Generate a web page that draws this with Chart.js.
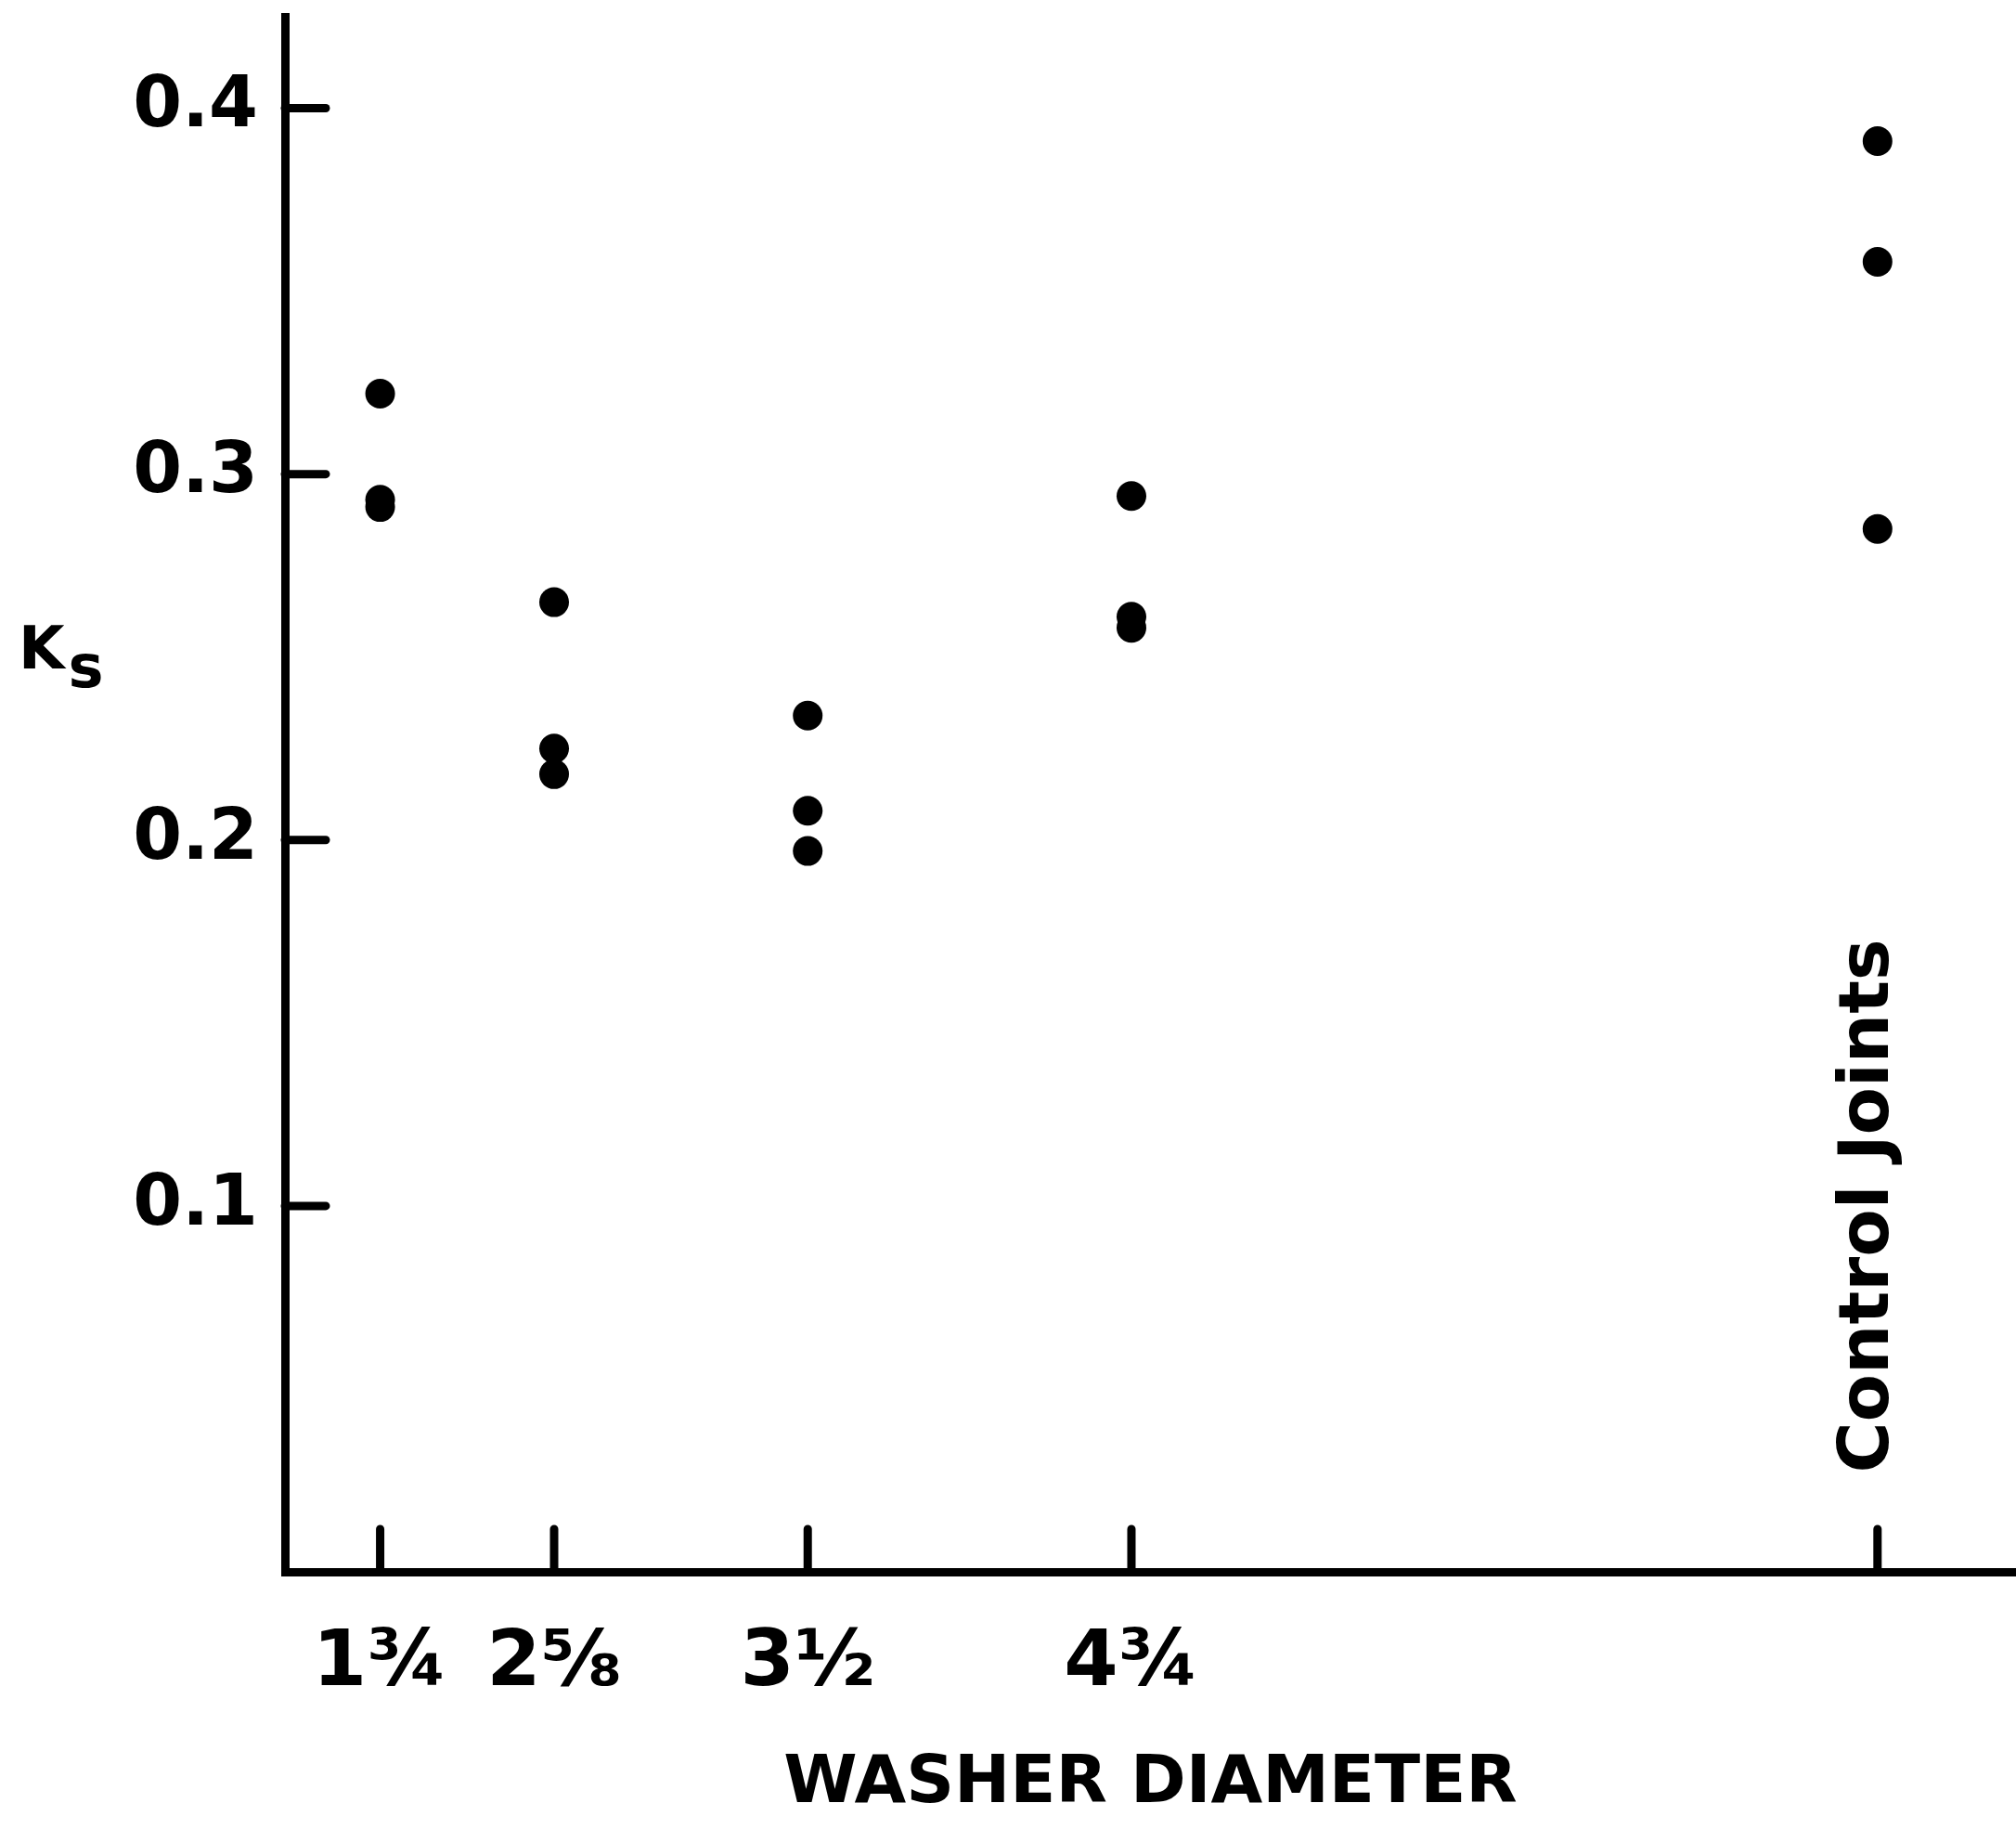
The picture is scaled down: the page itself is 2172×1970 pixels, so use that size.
<!DOCTYPE html>
<html>
<head>
<meta charset="utf-8">
<script src="https://cdn.jsdelivr.net/npm/chart.js@4.4.1/dist/chart.umd.min.js"></script>
<style>
html, body { margin: 0; padding: 0; background: #ffffff; }
canvas { display: block; }
</style>
</head>
<body>
<canvas id="chart" width="2172" height="1970"></canvas>
<script>
// ---- data ----
const categories = ['1¾', '2⅝', '3½', '4¾', 'Control Joints'];
// position of each washer group along the (non-uniform) horizontal axis, axis runs 0..100
const categoryPosition = [5.5, 15.55, 30.2, 48.9, 92.0];
const ks_1_3_4 = [0.322, 0.293, 0.291];
const ks_2_5_8 = [0.265, 0.225, 0.218];
const ks_3_1_2 = [0.234, 0.208, 0.197];
const ks_4_3_4 = [0.294, 0.261, 0.258];
const ks_control = [0.391, 0.358, 0.285];
const yTickValues = [0.1, 0.2, 0.3, 0.4];
const xAxisTitle = 'WASHER DIAMETER';
const yAxisMain = 'K';
const yAxisSub = 's';

const groups = [ks_1_3_4, ks_2_5_8, ks_3_1_2, ks_4_3_4, ks_control];
const points = [];
groups.forEach((vals, i) => vals.forEach(v => points.push({ x: categoryPosition[i], y: v })));

const FONT = '"DejaVu Sans", "Liberation Sans", sans-serif';
Chart.defaults.font.family = FONT;
Chart.defaults.color = '#000';

const decorations = {
  id: 'decorations',
  afterDraw(chart) {
    const { ctx, chartArea, scales } = chart;
    const x = scales.x, y = scales.y;
    ctx.save();
    ctx.strokeStyle = '#000';
    ctx.lineWidth = 9;
    ctx.lineCap = 'round';
    // inward tick marks on the y axis
    yTickValues.forEach(v => {
      const py = y.getPixelForValue(v);
      ctx.beginPath();
      ctx.moveTo(chartArea.left, py);
      ctx.lineTo(chartArea.left + 44, py);
      ctx.stroke();
    });
    // inward tick marks on the x axis
    categoryPosition.forEach(v => {
      const px = x.getPixelForValue(v);
      ctx.beginPath();
      ctx.moveTo(px, chartArea.bottom);
      ctx.lineTo(px, chartArea.bottom - 46);
      ctx.stroke();
    });
    // y axis label K with subscript s
    ctx.fillStyle = '#000';
    ctx.textAlign = 'left';
    ctx.textBaseline = 'alphabetic';
    ctx.font = 'bold 64px ' + FONT;
    ctx.fillText(yAxisMain, 20, 720);
    const kw = ctx.measureText(yAxisMain).width;
    ctx.font = 'bold 64px ' + FONT;
    ctx.fillText(yAxisSub, 20 + kw + 4, 740);
    // vertical "Control Joints" label above its tick
    const cx = x.getPixelForValue(categoryPosition[4]) - 8;
    const cy = y.getPixelForValue(0.1);
    ctx.translate(cx, cy);
    ctx.rotate(-Math.PI / 2);
    ctx.textAlign = 'center';
    ctx.textBaseline = 'middle';
    ctx.font = 'bold 75px ' + FONT;
    ctx.fillText(categories[4], 0, 0);
    ctx.restore();
  }
};

new Chart(document.getElementById('chart'), {
  type: 'scatter',
  data: {
    datasets: [{
      label: 'Ks',
      data: points,
      backgroundColor: '#000',
      borderColor: '#000',
      pointRadius: 16,
      pointHoverRadius: 16,
      borderWidth: 0
    }]
  },
  options: {
    responsive: false,
    devicePixelRatio: 1,
    animation: false,
    layout: { autoPadding: false, padding: { left: 0, top: 18, right: 0, bottom: 0 } },
    plugins: { legend: { display: false }, tooltip: { enabled: false } },
    scales: {
      x: {
        type: 'linear',
        min: 0,
        max: 100,
        afterFit: s => { s.height = 277; s.paddingLeft = 0; s.paddingRight = 0; },
        afterBuildTicks: s => { s.ticks = categoryPosition.map(v => ({ value: v })); },
        grid: { display: false, drawTicks: false },
        border: { display: true, color: '#000', width: 9 },
        ticks: {
          autoSkip: false,
          maxRotation: 0,
          minRotation: 0,
          padding: 50,
          color: '#000',
          font: { size: 84, weight: 'bold' },
          callback: (v, i) => (i < 4 ? categories[i] : '')
        },
        title: {
          display: true,
          text: xAxisTitle,
          color: '#000',
          font: { size: 72, weight: 'bold' },
          padding: { top: 0, bottom: 5 }
        }
      },
      y: {
        type: 'linear',
        min: 0,
        max: 0.425,
        afterFit: s => { s.width = 307; s.paddingTop = 0; s.paddingBottom = 0; },
        afterBuildTicks: s => { s.ticks = yTickValues.map(v => ({ value: v })); },
        grid: { display: false, drawTicks: false },
        border: { display: true, color: '#000', width: 9 },
        ticks: {
          autoSkip: false,
          padding: 29,
          color: '#000',
          font: { size: 76, weight: 'bold' },
          callback: v => v.toFixed(1)
        }
      }
    }
  },
  plugins: [decorations]
});
</script>
</body>
</html>
